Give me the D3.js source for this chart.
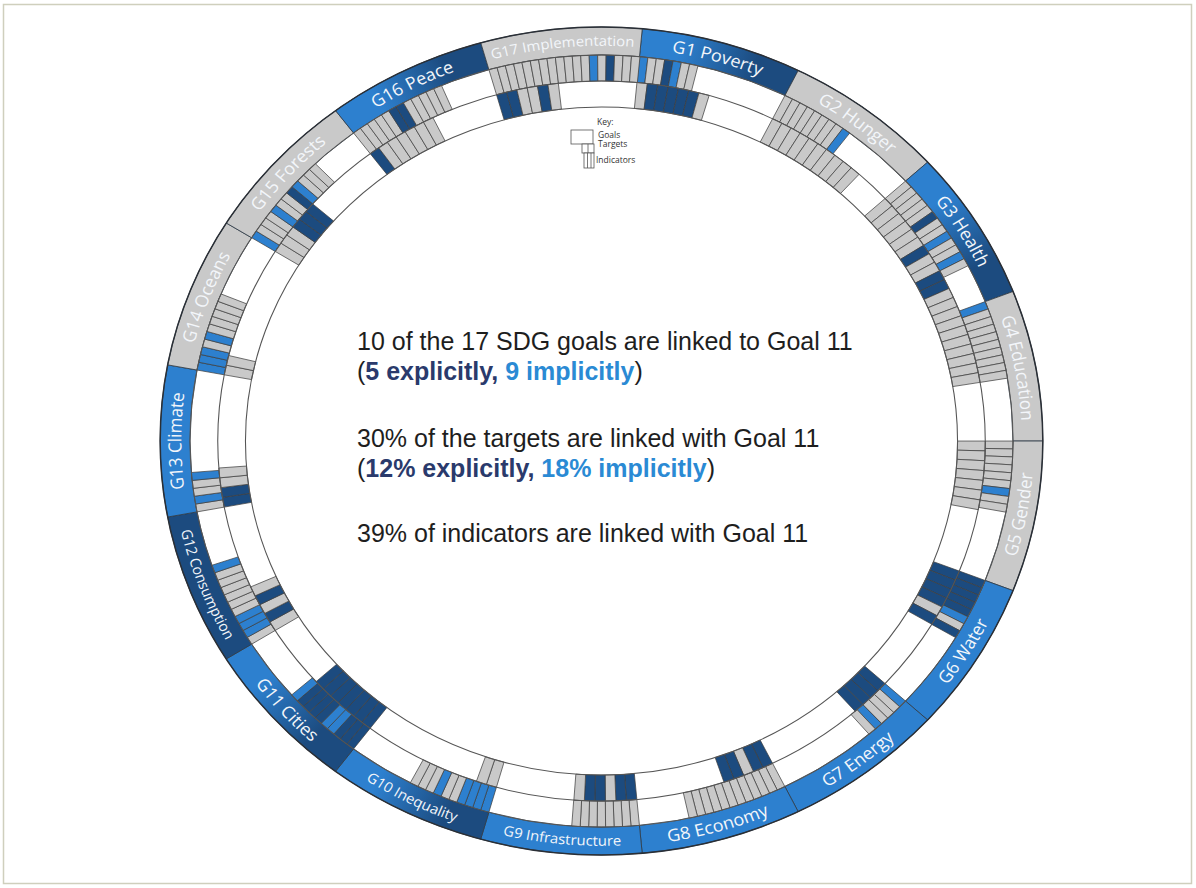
<!DOCTYPE html>
<html>
<head>
<meta charset="utf-8">
<script src="https://cdn.jsdelivr.net/npm/d3@7"></script>
<style>
  html, body { margin: 0; padding: 0; background: #fff; }
  svg { display: block; }
</style>
</head>
<body>
<svg id="chart" width="1196" height="888"></svg>
<script>
// goal names, clockwise from the top
var goalNames = ["G1 Poverty", "G2 Hunger", "G3 Health", "G4 Education", "G5 Gender",
  "G6 Water", "G7 Energy", "G8 Economy", "G9 Infrastructure", "G10 Inequality",
  "G11 Cities", "G12 Consumption", "G13 Climate", "G14 Oceans", "G15 Forests",
  "G16 Peace", "G17 Implementation"];

// link status: d = explicit, b = implicit, g = not linked (two letters = blend)
var goalLinks = ["bd", "g", "bd", "g", "g", "b", "b", "b", "b", "db",
  "db", "d", "b", "g", "g", "bd", "g"];

// one letter per target, from the start of each goal sector
var targetLinks = ["bggdbgg", "ggggggggb", "gggggdggbggbg", "bggggggggg", "ggggggbgg",
  "dddddbgd", "bgggbg", "gggggggggggg", "gggggggg", "bbbbggbggg",
  "dddbbddddb", "gbbbggggggb", "gbggb", "bbbgbggggg", "bgggbggdbggg",
  "gggggddggggg", "ggggggggggggbgdggg"];

// one letter per indicator cell, from the start of each goal sector
var indicatorLinks = ["gdddddg", "gggggggggg", "ggggggdggddgggggggggg", "", "ggggggg",
  "ddddgd", "dddd", "ddgdd", "ddgddg", "gg",
  "ddddddd", "gdgdg", "ddgg", "gg", "gggddd",
  "dgggggg", "ddggdg"];

var summaryLines = [
  [["10 of the 17 SDG goals are linked to Goal 11", "n"]],
  [["(", "n"], ["5 explicitly,", "x"], [" ", "n"], ["9 implicitly", "i"], [")", "n"]],
  [["30% of the targets are linked with Goal 11", "n"]],
  [["(", "n"], ["12% explicitly,", "x"], [" ", "n"], ["18% implicitly", "i"], [")", "n"]],
  [["39% of indicators are linked with Goal 11", "n"]]
];
var summaryY = [350, 380, 447, 477, 542];

var keyLabels = ["Goals", "Targets", "Indicators"];

var cx = 601.5, cy = 441, sx = 1.066;
var rOuter = 414, rGoal = 386, rTarget = 360, rInd = 334;
var step = 360 / 17, start0 = 5.3, tW = 1.18, iW = 1.57;
var rad = Math.PI / 180;
var colors = {d: "#1c4b7f", b: "#2d80cf", g: "#c9c9c9"};
var textColor = {n: "#1e1e1e", x: "#2a3a6c", i: "#2a8ad4"};

var svg = d3.select("#chart");
var defs = svg.append("defs");

svg.append("rect")
  .attr("x", 3.5).attr("y", 4.5).attr("width", 1188).attr("height", 879)
  .attr("fill", "none").attr("stroke", "#cfcfbd").attr("stroke-width", 1.5);

var g = svg.append("g")
  .attr("transform", "translate(" + cx + "," + cy + ") scale(" + sx + ",1)");

var arc = d3.arc();

var goals = goalNames.map(function(name, i) {
  return {name: name, i: i, a0: start0 + i * step, a1: start0 + (i + 1) * step, link: goalLinks[i]};
});

function pt(r, a) {
  return [r * Math.sin(a * rad), -r * Math.cos(a * rad)];
}

// gradients for goals with blended status
goals.forEach(function(d) {
  if(d.link.length < 2) return;
  var p0 = pt(400, d.a0), p1 = pt(400, d.a1);
  var lg = defs.append("linearGradient")
    .attr("id", "gg" + d.i)
    .attr("gradientUnits", "userSpaceOnUse")
    .attr("x1", p0[0]).attr("y1", p0[1]).attr("x2", p1[0]).attr("y2", p1[1]);
  lg.append("stop").attr("offset", 0.25).attr("stop-color", colors[d.link[0]]);
  lg.append("stop").attr("offset", 0.75).attr("stop-color", colors[d.link[1]]);
});

g.selectAll("path.goal")
  .data(goals)
  .join("path")
  .attr("class", "goal")
  .attr("d", function(d) {
    return arc({innerRadius: rGoal, outerRadius: rOuter, startAngle: d.a0 * rad, endAngle: d.a1 * rad});
  })
  .attr("fill", function(d) { return d.link.length > 1 ? "url(#gg" + d.i + ")" : colors[d.link]; })
  .attr("stroke", "#2f3b48")
  .attr("stroke-width", 0.8);

// target and indicator cells
var cells = [];
goals.forEach(function(d) {
  targetLinks[d.i].split("").forEach(function(c, j) {
    cells.push({r0: rTarget, r1: rGoal, a0: d.a0 + j * tW, a1: d.a0 + (j + 1) * tW, c: c});
  });
  indicatorLinks[d.i].split("").forEach(function(c, j) {
    cells.push({r0: rInd, r1: rTarget, a0: d.a0 + j * iW, a1: d.a0 + (j + 1) * iW, c: c});
  });
});

g.selectAll("path.cell")
  .data(cells)
  .join("path")
  .attr("class", "cell")
  .attr("d", function(d) {
    return arc({innerRadius: d.r0, outerRadius: d.r1, startAngle: d.a0 * rad, endAngle: d.a1 * rad});
  })
  .attr("fill", function(d) { return colors[d.c]; })
  .attr("stroke", "#3d3d3d")
  .attr("stroke-width", 0.7);

g.selectAll("circle.ring")
  .data([rGoal, rTarget, rInd])
  .join("circle")
  .attr("class", "ring")
  .attr("r", function(d) { return d; })
  .attr("fill", "none")
  .attr("stroke", "#555")
  .attr("stroke-width", 1);

g.append("circle")
  .attr("r", rOuter)
  .attr("fill", "none")
  .attr("stroke", "#2a2f36")
  .attr("stroke-width", 1.4);

// goal labels along the band, flipped on the lower half
goals.forEach(function(d) {
  var mid = (d.a0 + d.a1) / 2;
  var flip = mid > 90 && mid < 270;
  var fs = d.name.length > 13 ? 14 : 17;
  var r = flip ? 400 + fs * 0.34 : 400 - fs * 0.34;
  var a = d.a0 - 6, b = d.a1 + 6;
  var p0 = pt(r, a), p1 = pt(r, b);
  var path = flip
    ? "M" + p1 + "A" + r + "," + r + " 0 0 0 " + p0
    : "M" + p0 + "A" + r + "," + r + " 0 0 1 " + p1;
  defs.append("path").attr("id", "lp" + d.i).attr("d", path);
  g.append("text")
    .attr("font-family", "'Open Sans', sans-serif")
    .attr("font-size", fs)
    .attr("fill", "#f3f6fa")
    .append("textPath")
    .attr("href", "#lp" + d.i)
    .attr("startOffset", "50%")
    .attr("text-anchor", "middle")
    .text(d.name);
});

// summary text in the middle
summaryLines.forEach(function(line, k) {
  var t = svg.append("text")
    .attr("x", 357)
    .attr("y", summaryY[k])
    .attr("font-family", "'Liberation Sans', Arial, sans-serif")
    .attr("font-size", 25)
    .attr("xml:space", "preserve");
  line.forEach(function(p) {
    t.append("tspan")
      .attr("fill", textColor[p[1]])
      .attr("font-weight", p[1] == "n" ? "normal" : "bold")
      .text(p[0]);
  });
});

// key
var key = svg.append("g").attr("fill", "none").attr("stroke", "#555").attr("stroke-width", 0.8);
key.append("rect").attr("x", 571).attr("y", 130).attr("width", 22).attr("height", 14).attr("fill", "#fff");
key.append("rect").attr("x", 582).attr("y", 144).attr("width", 12).attr("height", 9).attr("fill", "#fff");
key.append("line").attr("x1", 588).attr("x2", 588).attr("y1", 144).attr("y2", 153);
key.append("rect").attr("x", 584).attr("y", 153).attr("width", 10).attr("height", 15).attr("fill", "#fff");
key.append("line").attr("x1", 587.5).attr("x2", 587.5).attr("y1", 153).attr("y2", 168);
key.append("line").attr("x1", 591).attr("x2", 591).attr("y1", 153).attr("y2", 168);

svg.append("text").attr("x", 597).attr("y", 125)
  .attr("font-family", "'Open Sans', sans-serif").attr("font-size", 8.5).attr("fill", "#333")
  .text("Key:");
svg.selectAll("text.key")
  .data(keyLabels)
  .join("text")
  .attr("class", "key")
  .attr("x", function(d, i) { return i == 2 ? 596 : 598; })
  .attr("y", function(d, i) { return [138, 147, 163][i]; })
  .attr("font-family", "'Open Sans', sans-serif")
  .attr("font-size", 8.5)
  .attr("fill", "#333")
  .text(function(d) { return d; });
</script>
</body>
</html>
